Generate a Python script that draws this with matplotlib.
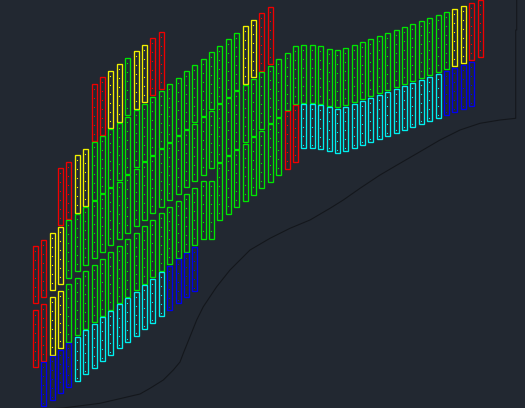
import matplotlib
matplotlib.use("Agg")
import matplotlib.pyplot as plt
from matplotlib.patches import Rectangle
import numpy as np

# ---- data (pixel space of the drawing, y grows downwards) ----
col_x = [33, 41, 50, 58, 66, 75, 83, 92, 100, 108, 117, 125, 134, 142, 150, 159,
         167, 176, 184, 192, 201, 209, 217, 226, 234, 243, 251, 259, 268, 276,
         285, 293, 301, 310, 318, 327, 335, 343, 352, 360, 368, 377, 385, 394,
         402, 410, 419, 427, 436, 444, 452, 461, 469, 478]

# one entry per panel: column index, top, bottom, colour code
panel_col = [0, 0,
             1, 1, 1,
             2, 2, 2,
             3, 3, 3, 3,
             4, 4, 4, 4,
             5, 5, 5, 5,
             6, 6, 6, 6,
             7, 7, 7, 7, 7,
             8, 8, 8, 8, 8,
             9, 9, 9, 9, 9,
             10, 10, 10, 10, 10,
             11, 11, 11, 11, 11,
             12, 12, 12, 12, 12,
             13, 13, 13, 13, 13,
             14, 14, 14, 14, 14,
             15, 15, 15, 15, 15,
             16, 16, 16, 16,
             17, 17, 17, 17,
             18, 18, 18, 18,
             19, 19, 19, 19,
             20, 20, 20,
             21, 21, 21,
             22, 22, 22,
             23, 23, 23,
             24, 24, 24,
             25, 25, 25,
             26, 26, 26,
             27, 27, 27,
             28, 28, 28,
             29, 29, 30, 30, 31, 31, 32, 32, 33, 33, 34, 34, 35, 35, 36, 36,
             37, 37, 38, 38, 39, 39, 40, 40, 41, 41, 42, 42, 43, 43, 44, 44,
             45, 45, 46, 46, 47, 47, 48, 48, 49, 49, 50, 50, 51, 51, 52, 52,
             53]
panel_top = [246, 310,
             240, 304, 361.7,
             233, 297, 355.7,
             168, 227, 291, 349.7,
             162, 220, 284, 343,
             155, 214, 278, 337,
             149, 207, 271, 330,
             84, 142, 201, 265, 323.7,
             77, 136, 194, 259, 317,
             71, 129, 188, 252, 311,
             64, 123, 182, 246, 304,
             58, 117, 175, 239, 298,
             51, 110, 169, 233, 292,
             45, 104, 162, 226, 285,
             38, 97, 156, 220, 279,
             32, 91, 149, 213, 272,
             84, 143, 207, 266,
             78, 136, 201, 259,
             71, 130, 194, 253,
             65, 124, 188, 247,
             59, 117, 181,
             52, 111, 181,
             46, 104, 163,
             39, 98, 156,
             33, 91, 150,
             26, 85, 144,
             20, 79, 137,
             13, 72, 131,
             7, 66, 124,
             59, 118, 53, 111, 46, 105, 45, 104, 45, 104, 46, 105, 49, 107, 50, 109,
             48, 107, 45, 104, 42, 101, 39, 98, 36, 95, 33, 92, 30, 89, 27, 86,
             24, 83, 21, 80, 18, 77, 15, 74, 12, 71, 9, 68, 6, 65, 3, 62,
             0]
panel_bot = [302.7, 366.7,
             296.7, 360.7, 405.7,
             289.7, 354.7, 399.7,
             224.7, 283.7, 347.7, 392.7,
             218.7, 277.7, 341.7, 386.7,
             212.7, 270.7, 334.7, 380.7,
             205.7, 264.7, 328.7, 373.7,
             140.7, 199.7, 257.7, 321.7, 367.7,
             134.7, 192.7, 251.7, 315.7, 360.7,
             127.7, 186.7, 244.7, 309.7, 354.7,
             121.7, 179.7, 238.7, 302.7, 347.7,
             114.7, 173.7, 232.7, 296.7, 341.7,
             108.7, 166.7, 225.7, 289.7, 335.7,
             101.7, 160.7, 219.7, 283.7, 328.7,
             95.3, 154.7, 212.7, 276.7, 322.7,
             88.7, 147.7, 206.7, 270.7, 315.7,
             141.7, 199.7, 263.7, 309.7,
             134.7, 193.7, 257.7, 302.7,
             128.7, 186.7, 251.7, 296.7,
             121.7, 180.7, 244.7, 290.7,
             115.7, 174.7, 238.7,
             108.7, 167.7, 238.7,
             102.7, 161.7, 219.7,
             96.7, 154.7, 213.7,
             89.7, 148.7, 206.7,
             83.7, 141.7, 200.7,
             76.7, 135.7, 194.7,
             70.7, 128.7, 187.7,
             63.7, 122.7, 181.7,
             116.7, 174.7, 109.7, 168.7, 103.7, 161.7, 102.7, 147.7, 102.7, 147.7,
             103.7, 148.7, 105.7, 150.7, 106.7, 152.7,
             104.7, 150.7, 101.7, 147.7, 98.7, 144.7, 95.7, 141.7, 92.7, 138.7,
             89.7, 135.7, 86.7, 132.7, 83.7, 129.7,
             80.7, 126.7, 77.7, 123.7, 74.7, 120.7, 71.7, 117.7, 68.7, 114.7,
             65.7, 111.7, 62.7, 108.7, 59.7, 105.7,
             56.7]
panel_kind = ["r", "r",
              "r", "r", "b",
              "y", "y", "b",
              "r", "y", "y", "b",
              "r", "g", "g", "b",
              "y", "g", "g", "c",
              "y", "g", "g", "c",
              "r", "g", "g", "g", "c",
              "r", "g", "g", "g", "c",
              "y", "g", "g", "g", "c",
              "y", "g", "g", "g", "c",
              "g", "g", "g", "g", "c",
              "y", "g", "g", "g", "c",
              "y", "g", "g", "g", "c",
              "r", "g", "g", "g", "c",
              "r", "g", "g", "g", "c",
              "g", "g", "g", "b",
              "g", "g", "g", "b",
              "g", "g", "g", "b",
              "g", "g", "g", "b",
              "g", "g", "g",
              "g", "g", "g",
              "g", "g", "g",
              "g", "g", "g",
              "g", "g", "g",
              "y", "g", "g",
              "y", "g", "g",
              "r", "g", "g",
              "r", "g", "g",
              "g", "g", "g", "r", "g", "r", "g", "c", "g", "c", "g", "c", "g", "c", "g", "c",
              "g", "c", "g", "c", "g", "c", "g", "c", "g", "c", "g", "c", "g", "c", "g", "c",
              "g", "c", "g", "c", "g", "c", "g", "c", "g", "b", "y", "b", "y", "b", "r", "b",
              "r"]

# boundary line of the site
boundary_x = [45, 63, 100, 140, 150, 163.3, 173.3, 180, 183.3, 190, 196.7, 203.3,
              216.7, 230, 250, 270, 290, 310, 330, 343.3, 360, 380, 400, 420,
              440, 460, 480, 500, 515.7, 515.7, 516.7, 516.7]
boundary_y = [409, 408, 403.3, 394, 388.3, 380, 370, 362, 353.3, 336.7, 320, 306.7,
              286.7, 270, 250, 238.3, 228.3, 220, 208.3, 200, 188.3, 175, 163.3, 151.7,
              140, 130, 123.3, 120, 118.3, 30, 30, 0]

# ---- style ----
BG = "#222831"
palette = {"r": "#f00000", "y": "#f2f200", "g": "#00e600",
           "c": "#00f0f0", "b": "#0000f0"}
PANEL_W = 4.7

fig = plt.figure(figsize=(5.25, 4.08), dpi=100, facecolor=BG)
ax = fig.add_axes([0, 0, 1, 1])
ax.set_facecolor(BG)
ax.set_xlim(0, 525)
ax.set_ylim(408, 0)
ax.axis("off")

ax.plot(boundary_x, boundary_y, color="#14171c", lw=0.8, zorder=1)

for c, t, b, k in zip(panel_col, panel_top, panel_bot, panel_kind):
    x = col_x[c]
    col = palette[k]
    ax.add_patch(Rectangle((x, t), PANEL_W, b - t, fill=False,
                           edgecolor=col, lw=0.95, zorder=3))
    dots = np.arange(t + 5, b - 2, 9)
    ax.plot(np.full(len(dots), x + PANEL_W / 2), dots, ls="none", marker="s",
            ms=0.8, mew=0, color=col, zorder=3)

fig.savefig("out.png", dpi=100, facecolor=BG)
